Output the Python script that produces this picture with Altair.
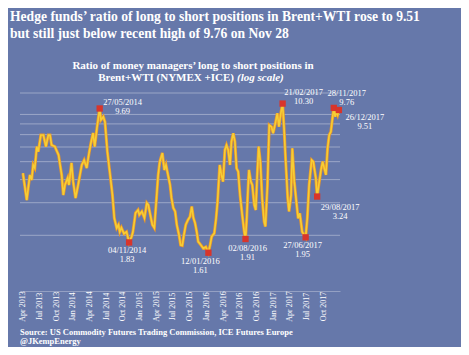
import altair as alt
import pandas as pd

# ---------------- data ----------------
DATES = [
    "2013-04-02", "2013-04-23", "2013-05-10", "2013-05-20", "2013-05-28", "2013-06-06",
    "2013-06-17", "2013-06-25", "2013-07-09", "2013-07-23", "2013-08-06", "2013-08-19",
    "2013-08-28", "2013-09-06", "2013-09-24", "2013-10-14", "2013-10-31", "2013-11-09",
    "2013-11-18", "2013-12-03", "2013-12-10", "2013-12-24", "2014-01-02", "2014-01-15",
    "2014-01-29", "2014-02-18", "2014-03-03", "2014-03-17", "2014-03-30", "2014-04-09",
    "2014-04-21", "2014-04-30", "2014-05-12", "2014-05-27", "2014-06-03", "2014-06-16",
    "2014-06-25", "2014-07-08", "2014-07-22", "2014-08-05", "2014-08-15", "2014-08-28",
    "2014-09-07", "2014-09-14", "2014-09-23", "2014-10-07", "2014-10-21", "2014-11-04",
    "2014-11-18", "2014-11-25", "2014-12-09", "2014-12-23", "2014-12-30", "2015-01-13",
    "2015-01-27", "2015-02-09", "2015-02-17", "2015-02-26", "2015-03-11", "2015-03-22",
    "2015-04-03", "2015-04-12", "2015-04-21", "2015-05-05", "2015-05-16", "2015-05-25",
    "2015-06-03", "2015-06-16", "2015-06-24", "2015-07-04", "2015-07-14", "2015-07-23",
    "2015-08-04", "2015-08-13", "2015-08-22", "2015-08-31", "2015-09-10", "2015-09-22",
    "2015-10-03", "2015-10-13", "2015-10-22", "2015-10-31", "2015-11-09", "2015-11-17",
    "2015-12-02", "2015-12-15", "2015-12-29", "2016-01-12", "2016-01-21", "2016-01-30",
    "2016-02-13", "2016-02-23", "2016-03-02", "2016-03-14", "2016-03-23", "2016-04-01",
    "2016-04-11", "2016-04-20", "2016-04-29", "2016-05-09", "2016-05-17", "2016-05-27",
    "2016-06-05", "2016-06-14", "2016-06-23", "2016-07-03", "2016-07-15", "2016-07-26",
    "2016-08-02", "2016-08-09", "2016-08-14", "2016-08-21", "2016-08-31", "2016-09-08",
    "2016-09-19", "2016-09-27", "2016-10-06", "2016-10-13", "2016-10-22", "2016-11-01",
    "2016-11-12", "2016-11-19", "2016-11-30", "2016-12-10", "2016-12-22", "2016-12-31",
    "2017-01-14", "2017-01-23", "2017-02-01", "2017-02-11", "2017-02-21", "2017-03-01",
    "2017-03-10", "2017-03-21", "2017-03-28", "2017-04-08", "2017-04-15", "2017-04-26",
    "2017-05-09", "2017-05-17", "2017-05-26", "2017-06-08", "2017-06-27", "2017-07-06",
    "2017-07-16", "2017-07-30", "2017-08-08", "2017-08-15", "2017-08-22", "2017-08-29",
    "2017-09-07", "2017-09-19", "2017-09-28", "2017-10-07", "2017-10-16", "2017-10-25",
    "2017-11-03", "2017-11-12", "2017-11-21", "2017-11-28", "2017-12-05", "2017-12-12",
    "2017-12-19", "2017-12-26",
]
VALUES = [
    4.33, 3.10, 4.24, 3.98, 4.80, 4.62,
    6.03, 5.66, 6.97, 6.97, 6.03, 6.97,
    6.97, 6.15, 6.03, 5.43, 4.24, 3.30,
    3.74, 4.08, 3.74, 4.92, 3.90, 3.18,
    3.74, 4.80, 5.10, 4.62, 5.57, 6.31,
    7.14, 6.03, 7.60, 9.69, 8.40, 8.75,
    8.20, 5.66, 4.33, 3.30, 2.48, 2.19,
    2.28, 2.09, 2.20, 2.04, 2.09, 1.83,
    1.97, 2.09, 2.64, 2.74, 2.58, 2.69,
    2.48, 2.99, 2.92, 2.64, 2.28, 2.19,
    3.18, 4.24, 5.00, 5.57, 4.51, 4.80,
    4.33, 3.74, 3.18, 2.81, 2.69, 2.28,
    2.01, 1.77, 1.76, 2.01, 2.28, 2.42,
    2.52, 2.86, 2.48, 2.33, 2.09, 1.85,
    1.77, 1.70, 1.73, 1.61, 1.77, 1.97,
    2.05, 2.47, 3.04, 4.80, 4.24, 3.90,
    5.78, 6.15, 5.78, 4.80, 6.41, 7.12,
    6.41, 4.60, 4.42, 3.30, 2.58, 2.09,
    1.91, 2.50, 3.30, 4.51, 3.90, 3.74,
    2.92, 2.74, 4.42, 6.03, 5.00, 3.17,
    2.37, 2.23, 3.74, 7.89, 7.72, 7.12,
    8.20, 9.13, 7.72, 9.13, 10.30, 7.57,
    5.00, 3.17, 2.69, 3.30, 5.90, 3.90,
    2.92, 2.47, 2.63, 2.09, 1.95, 2.47,
    3.74, 5.10, 5.00, 4.50, 4.06, 3.24,
    3.74, 4.51, 5.00, 4.60, 4.24, 5.90,
    6.97, 7.26, 8.60, 9.76, 8.75, 9.32,
    8.94, 9.51,
]

MARK_DATES = ["2014-05-27", "2014-11-04", "2016-01-12", "2016-08-02", "2017-02-21",
              "2017-06-27", "2017-08-29", "2017-11-28", "2017-12-26"]
MARK_VALUES = [9.69, 1.83, 1.61, 1.91, 10.30, 1.95, 3.24, 9.76, 9.51]

GRID_VALUES = [2, 3, 4, 5, 6, 7, 8, 9, 11.75]
Y_LABELS = [1, 10]
TICK_QUARTERS = [(2013, 4), (2013, 7), (2013, 10), (2014, 1), (2014, 4), (2014, 7),
                 (2014, 10), (2015, 1), (2015, 4), (2015, 7), (2015, 10), (2016, 1),
                 (2016, 4), (2016, 7), (2016, 10), (2017, 1), (2017, 4), (2017, 7),
                 (2017, 10)]

TITLE_1 = "Hedge funds\u2019 ratio of long to short positions in Brent+WTI rose to 9.51"
TITLE_2 = "but still just below recent high of 9.76 on Nov 28"
SUB_1 = "Ratio of  money managers\u2019 long to short positions in"
SUB_2A = "Brent+WTI (NYMEX +ICE)"
SUB_2B = "(log scale)"
SOURCE_1 = "Source: US Commodity Futures Trading Commission, ICE Futures Europe"
SOURCE_2 = "@JKempEnergy"

# ---------------- styling ----------------
BG = "#6678AA"
FONT = "Liberation Serif"
LABEL_OFFSETS = [(23, -6), (-2, 8), (-8, 8), (2, 9), (21, -12), (-3, 8), (23, 10), (13, -15), (26, 7)]

df = pd.DataFrame({"date": DATES, "value": VALUES})
marks_df = pd.DataFrame({"date": MARK_DATES, "value": MARK_VALUES})

x_scale = alt.Scale(type="utc",
                    domain=[alt.DateTime(year=2013, month=3, date=17, utc=True),
                            alt.DateTime(year=2018, month=1, date=1, utc=True)])
y_scale = alt.Scale(type="log", domain=[1, 11.75], nice=False, zero=False)

x_axis = alt.Axis(values=[alt.DateTime(year=y, month=m, date=1, utc=True) for y, m in TICK_QUARTERS],
                  labelExpr="utcFormat(datum.value, '%b %Y')",
                  labelAngle=270, labelAlign="center", labelBaseline="middle",
                  labelPadding=15, labelFont=FONT, labelFontSize=8, labelColor="white",
                  ticks=False, grid=False, domain=True, domainColor="white", domainOpacity=0.3,
                  title=None, labelOverlap=False, labelFlush=False, labelBound=False)
y_axis = alt.Axis(values=Y_LABELS, format="d", grid=False, ticks=False, domain=False,
                  labelFont=FONT, labelFontSize=7, labelFontWeight="bold", labelColor="white",
                  labelPadding=5, title=None)

X = alt.X("date:T", scale=x_scale, axis=x_axis)
Y = alt.Y("value:Q", scale=y_scale, axis=y_axis)

grid = alt.Chart(pd.DataFrame({"g": GRID_VALUES})).mark_rule(
    color="white", opacity=0.35, strokeWidth=1
).encode(y=alt.Y("g:Q", scale=y_scale, axis=None))

line_under = alt.Chart(df).mark_line(color="#E8962A", strokeWidth=3).encode(x=X, y=Y)
line_top = alt.Chart(df).mark_line(color="#F6CE35", strokeWidth=1.6).encode(x=X, y=Y)

points = alt.Chart(marks_df).mark_point(shape="square", filled=True, color="#D8352B",
                                        size=40, opacity=1).encode(x=X, y=Y)

layers = [grid, line_under, line_top, points]

for d, v, (dx, dy) in zip(MARK_DATES, MARK_VALUES, LABEL_OFFSETS):
    yy, mm, dd = d.split("-")
    one = pd.DataFrame({"date": [d], "value": [v],
                        "l1": [f"{dd}/{mm}/{yy}"], "l2": [f"{v:.2f}"]})
    for field, off in (("l1", 0), ("l2", 9)):
        layers.append(
            alt.Chart(one).mark_text(font=FONT, fontSize=8.5, color="white", align="center",
                                     baseline="middle", dx=dx, dy=dy + off)
            .encode(x=X, y=Y, text=f"{field}:N")
        )


def txt(s, x, y, size, weight="bold", align="left", style="normal"):
    return alt.Chart(pd.DataFrame({"t": [s]})).mark_text(
        font=FONT, fontSize=size, fontWeight=weight, fontStyle=style, color="white",
        align=align, baseline="middle"
    ).encode(x=alt.value(x), y=alt.value(y), text="t:N")


layers += [
    txt(TITLE_1, -10, -76, 13.6),
    txt(TITLE_2, -10, -59, 13.6),
    txt(SUB_1, 173, -27, 11, align="center"),
    txt(SUB_2A, 214, -15, 11, align="right"),
    txt(SUB_2B, 217, -15, 11, align="left", style="italic"),
    txt(SOURCE_1, 0, 239, 8.5),
    txt(SOURCE_2, 0, 248, 8.5),
]

chart = alt.layer(*layers).properties(
    width=320, height=198,
    autosize=alt.AutoSizeParams(type="none"),
    padding={"left": 12, "top": 85, "right": 121, "bottom": 56},
    background=BG,
).configure_view(stroke=None)

chart.save("out.html", embed_options={"renderer": "svg", "actions": False})
